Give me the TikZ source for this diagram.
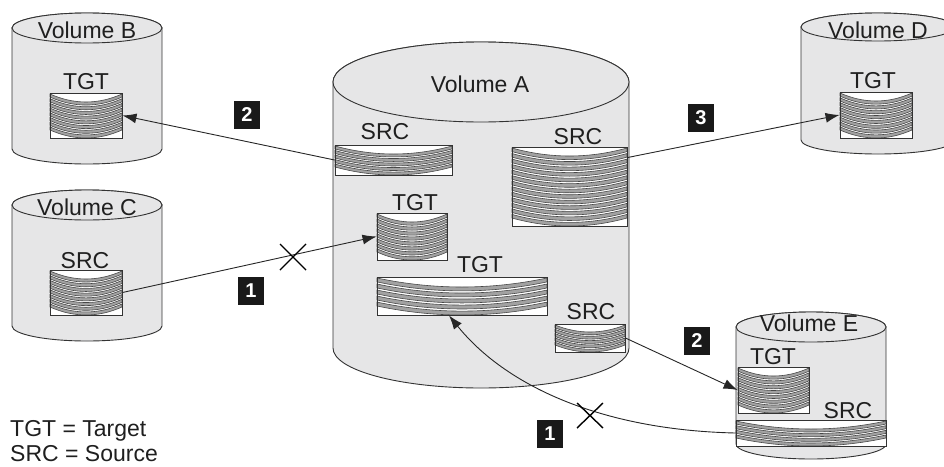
\documentclass[tikz,border=0pt]{standalone}
\usepackage{fontspec}
\setmainfont{Liberation Sans}
\usetikzlibrary{arrows.meta}
\definecolor{cylgray}{HTML}{E6E6E7}
\definecolor{edgec}{HTML}{333333}
\definecolor{bandfill}{HTML}{A2A2A2}
\definecolor{bandline}{HTML}{484848}
\tikzset{
 cyl/.style={fill=cylgray, draw=edgec, line width=0.9pt},
 band/.style={fill=bandfill, draw=bandline, line width=0.6pt},
 stackbox/.style={draw=edgec, line width=0.9pt, inner sep=0pt},
 lbl/.style={font=\fontsize{23}{27}\selectfont, text=black!88, inner sep=0pt, text height=16.5pt, text depth=0pt},
 badge/.style={fill=black!90, text=white, font=\fontsize{20}{24}\selectfont\bfseries, minimum width=26pt, minimum height=28pt, inner sep=0pt},
 conn/.style={draw=black!85, line width=0.9pt},
 tip/.style={-{Latex[length=14pt,width=10pt]}},
 xmark/.style={draw=black, line width=1.4pt},
}
% cx, yt, yb, rx, ry
\newcommand{\cylinder}[5]{%
 \path[cyl] (#1-#4,#2) -- (#1-#4,#3) arc[start angle=180,end angle=0,x radius=#4,y radius=#5] -- (#1+#4,#2) arc[start angle=0,end angle=-180,x radius=#4,y radius=#5] -- cycle;
 \path[cyl] (#1,#2) ellipse[x radius=#4, y radius=#5];
}
% name, x0, y0, x1, y1, n, sag
\newcommand{\stk}[7]{%
 \pgfmathsetmacro{\pp}{(#5-#3-1-#7)/(#6-0.35)}
 \pgfmathsetmacro{\bth}{0.65*\pp}
 \pgfmathsetmacro{\wa}{#2+(#4-#2)/3}
 \pgfmathsetmacro{\wb}{#2+2*(#4-#2)/3}
 \pgfmathsetmacro{\dd}{4*#7/3}
 \pgfmathsetmacro{\ww}{#4-#2}
 \pgfmathsetmacro{\hh}{#5-#3}
 \fill[white] (#2,#3) rectangle (#4,#5);
 \foreach \i in {1,...,#6}{
   \pgfmathsetmacro{\ya}{#3+1+(\i-1)*\pp}
   \pgfmathsetmacro{\yb}{\ya+\bth}
   \path[band] (#2,\ya) .. controls (\wa,\ya+\dd) and (\wb,\ya+\dd) .. (#4,\ya) -- (#4,\yb) .. controls (\wb,\yb+\dd) and (\wa,\yb+\dd) .. (#2,\yb) -- cycle;
 }
 \node[stackbox, minimum width=\ww pt, minimum height=\hh pt] (#1) at ({(#2+#4)/2},{(#3+#5)/2}) {};
}
\begin{document}
\begin{tikzpicture}[x=1pt,y=-1pt]
\path[use as bounding box] (0,0) rectangle (944,466);
\clip (0,0) rectangle (944,466);
% cylinders
\cylinder{87}{28}{149}{75}{15}
\cylinder{87}{205}{326}{75}{15}
\cylinder{878}{27}{140}{77}{14}
\cylinder{481}{82}{348}{148}{40}
\cylinder{811}{327}{444}{75}{15}
% volume labels
\node[lbl] (vB) at (87,30) {Volume B};
\node[lbl] (vC) at (87,207) {Volume C};
\node[lbl] (vD) at (878,30) {Volume D};
\node[lbl] (vA) at (480,84) {Volume A};
\node[lbl] (vE) at (809,323) {Volume E};
% stacks
\stk{tgtB}{50}{93}{122}{138}{8}{8}
\stk{srcC}{50}{270}{122}{315}{8}{8}
\stk{tgtD}{840}{92}{912}{138}{8}{8}
\stk{srcAl}{335}{145}{452}{175}{5}{8}
\stk{srcAr}{512}{147}{627}{226}{13}{8}
\stk{tgtAm}{377}{213}{447}{260}{8}{8}
\stk{tgtAw}{377}{277}{547}{315}{5}{9}
\stk{srcAb}{555}{324}{625}{352}{5}{7}
\stk{tgtE}{738}{367}{809}{413}{8}{8}
\stk{srcE}{736}{420}{886}{446}{4}{8}
% stack labels
\node[lbl] (lTB) at (86,81) {TGT};
\node[lbl] (lSC) at (85,260) {SRC};
\node[lbl] (lTD) at (873,80) {TGT};
\node[lbl] (lSAl) at (385,131) {SRC};
\node[lbl] (lSAr) at (578,136) {SRC};
\node[lbl] (lTAm) at (415,202) {TGT};
\node[lbl] (lTAw) at (480,264) {TGT};
\node[lbl] (lSAb) at (591,311) {SRC};
\node[lbl] (lTE) at (773,356) {TGT};
\node[lbl] (lSE) at (848,410) {SRC};
% connectors
\draw[conn,tip] (srcC.east) -- (tgtAm.west);
\draw[conn,tip] (srcAl.west) -- (tgtB.east);
\draw[conn,tip] ([yshift=-11pt]srcAr.north east) -- (tgtD.west);
\draw[conn,tip] (srcAb.east) -- (tgtE.west);
\draw[conn,tip] (srcE.west) .. controls (600,430) and (505,385) .. ([xshift=-13pt]tgtAw.south);
% X marks
\draw[xmark] (280,244) -- (306,270) (280,270) -- (306,244);
\draw[xmark] (577,403) -- (603,428) (577,428) -- (603,403);
% badges
\node[badge] (b2u) at (247,115) {2};
\node[badge] (b1l) at (251,291) {1};
\node[badge] (b3) at (701,118) {3};
\node[badge] (b2l) at (697,341) {2};
\node[badge] (b1b) at (550,434) {1};
% legend
\node[lbl, anchor=west] (leg1) at (10,428) {TGT = Target};
\node[lbl, anchor=west] (leg2) at (10,453) {SRC = Source};
\end{tikzpicture}
\end{document}
